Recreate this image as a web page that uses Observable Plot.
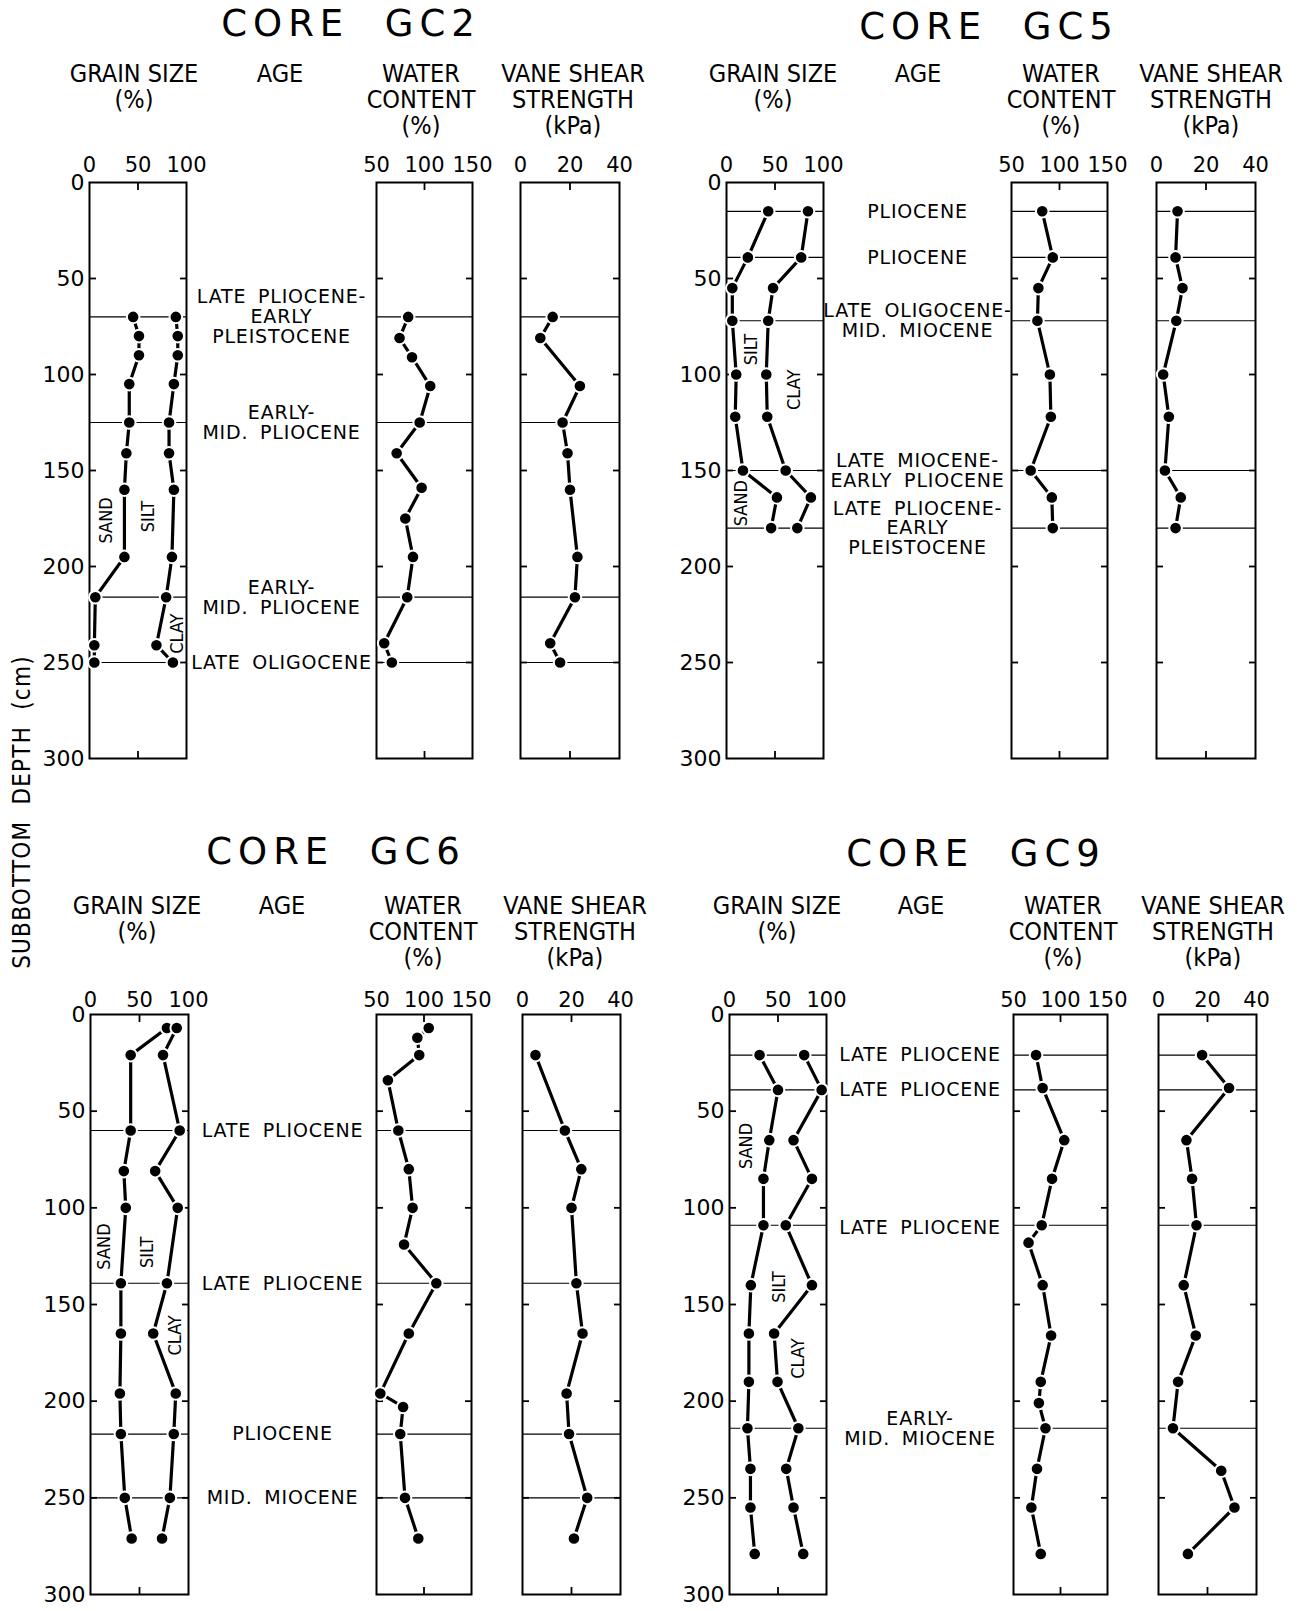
<!DOCTYPE html>
<html><head><meta charset="utf-8">
<script src="https://cdn.jsdelivr.net/npm/d3@7"></script>
<script src="https://cdn.jsdelivr.net/npm/@observablehq/plot@0.6"></script>
<style>
body{margin:0;background:#fff;}
#root{position:relative;width:1297px;height:1611px;overflow:hidden;background:#fff;color:#000;}
.title{position:absolute;font-family:"DejaVu Sans",sans-serif;font-size:37px;letter-spacing:6px;white-space:pre;transform:translate(-50%,-50%);line-height:1;}
.hdr{position:absolute;font-family:"DejaVu Sans Condensed","DejaVu Sans",sans-serif;font-stretch:condensed;font-size:25px;line-height:26px;text-align:center;white-space:pre;transform:translateX(-50%);}
.ylab{position:absolute;font-family:"DejaVu Sans Condensed","DejaVu Sans",sans-serif;font-stretch:condensed;font-size:24px;letter-spacing:1.2px;white-space:pre;transform:translate(-50%,-50%) rotate(-90deg);}
</style></head>
<body><div id="root"></div>
<script>
// ---------- DATA ----------
// CORE GC2
const gc2GrainDepth = [70, 80, 90, 105, 125, 141, 160, 195, 216, 241, 250];
const gc2Sand       = [45, 51, 51, 41, 41, 38, 36, 36, 6, 5, 5];
const gc2SandSilt   = [89, 91, 91, 87, 82, 82, 87, 85, 79, 69, 86];
const gc2WaterDepth = [70, 81, 91, 106, 125, 141, 159, 175, 195, 216, 240, 250];
const gc2Water      = [83, 74, 87, 106, 95, 71, 97, 80, 88, 82, 58, 66];
const gc2VaneDepth  = [70, 81, 106, 125, 141, 160, 195, 216, 240, 250];
const gc2Vane       = [13, 8, 24, 17, 19, 20, 23, 22, 12, 16];
const gc2Rules      = [70, 125, 216, 250];
const gc2AgeDepth   = [70, 125, 216, 250];
const gc2AgeText    = ["LATE PLIOCENE-\nEARLY\nPLEISTOCENE", "EARLY-\nMID. PLIOCENE", "EARLY-\nMID. PLIOCENE", "LATE OLIGOCENE"];

// CORE GC5
const gc5Depth      = [15, 39, 55, 72, 100, 122, 150, 164, 180];
const gc5Sand       = [43, 22, 6, 6, 10, 9, 17, 52, 46];
const gc5SandSilt   = [84, 77, 48, 43, 41, 42, 61, 87, 73];
const gc5Water      = [82, 93, 78, 77, 90, 91, 70, 92, 93];
const gc5Vane       = [8.5, 7.7, 10.5, 8, 2.7, 5, 3.4, 9.8, 7.7];
const gc5Rules      = [15, 39, 72, 150, 180];
const gc5AgeDepth   = [15, 39, 72, 150, 180];
const gc5AgeText    = ["PLIOCENE", "PLIOCENE", "LATE OLIGOCENE-\nMID. MIOCENE", "LATE MIOCENE-\nEARLY PLIOCENE", "LATE PLIOCENE-\nEARLY\nPLEISTOCENE"];

// CORE GC6
const gc6GrainDepth = [7, 21, 60, 81, 100, 139, 165, 196, 217, 250, 271];
const gc6Sand       = [78, 41, 41, 34, 36, 31, 31, 30, 31, 35, 42];
const gc6SandSilt   = [88, 74, 91, 66, 89, 78, 64, 87, 85, 81, 73];
const gc6WaterDepth = [7, 12, 21, 34, 60, 80, 100, 119, 139, 165, 196, 203, 217, 250, 271];
const gc6Water      = [105, 93, 95, 62, 73, 84, 88, 79, 113, 84, 54, 78, 75, 80, 94];
const gc6VaneDepth  = [21, 60, 80, 100, 139, 165, 196, 217, 250, 271];
const gc6Vane       = [5.3, 17.3, 24, 20, 22, 24.5, 18, 19, 26.4, 21];
const gc6Rules      = [60, 139, 217, 250];
const gc6AgeDepth   = [60, 139, 217, 250];
const gc6AgeText    = ["LATE PLIOCENE", "LATE PLIOCENE", "PLIOCENE", "MID. MIOCENE"];

// CORE GC9
const gc9GrainDepth = [21, 39, 65, 85, 109, 140, 165, 190, 214, 235, 255, 279];
const gc9Sand       = [31, 50, 41, 35, 35, 22, 20, 20, 18.5, 21.6, 21.6, 26];
const gc9SandSilt   = [77, 95, 66, 85, 58, 85, 46, 49.5, 71, 58.5, 66, 76];
const gc9WaterDepth = [21, 38, 65, 85, 109, 118, 140, 166, 190, 201, 214, 235, 255, 279];
const gc9Water      = [74, 81, 104, 91, 80, 66, 81, 90, 79, 77, 84, 75, 69, 79];
const gc9VaneDepth  = [21, 38, 65, 85, 109, 140, 166, 190, 214, 236, 255, 279];
const gc9Vane       = [17.8, 28.8, 11.4, 13.7, 15.5, 10.3, 15.2, 8, 5.9, 25.6, 31, 12];
const gc9Rules      = [21, 39, 109, 214];
const gc9AgeDepth   = [21, 39, 110, 214];
const gc9AgeText    = ["LATE PLIOCENE", "LATE PLIOCENE", "LATE PLIOCENE", "EARLY-\nMID. MIOCENE"];

// zone labels (grain-size %, depth cm)
const zoneNames  = ["SAND", "SILT", "CLAY"];
const gc2ZoneX = [17, 61, 90],  gc2ZoneD = [176, 174, 235];
const gc5ZoneX = [15, 25, 70],  gc5ZoneD = [167, 87, 108];
const gc6ZoneX = [14, 58, 86],  gc6ZoneD = [120, 123, 166];
const gc9ZoneX = [17, 51, 71],  gc9ZoneD = [68, 141, 178];

const depthTicks = [0, 50, 100, 150, 200, 250, 300];
const innerTicks = [50, 100, 150, 200, 250];
const grainTicks = [0, 50, 100];
const waterTicks = [50, 100, 150];
const vaneTicks  = [0, 20, 40];

// ---------- LAYOUT ----------
const root = document.getElementById("root");
const rowTop = [182, 1014], rowBottom = [758, 1594];
const hdrY = [74, 906];
const tickPad = [11, 8];
const COND = "DejaVu Sans Condensed";
const MT = 40, MB = 12;

const zip = (ds, vs) => ds.map((d, i) => ({d, v: vs[i]}));

const cores = [
  {title: "CORE  GC2", tx: 351, ty: 23, row: 0, grain: [89, 186], water: [376, 472], vane: [520, 619],
   hx: [134, 280, 421, 573],
   grainSeries: [zip(gc2GrainDepth, gc2Sand), zip(gc2GrainDepth, gc2SandSilt)],
   waterSeries: zip(gc2WaterDepth, gc2Water), vaneSeries: zip(gc2VaneDepth, gc2Vane),
   rules: gc2Rules, ages: gc2AgeDepth.map((d, i) => ({d, t: gc2AgeText[i]})),
   zones: zoneNames.map((t, i) => ({t, x: gc2ZoneX[i], d: gc2ZoneD[i]}))},
  {title: "CORE  GC5", tx: 989, ty: 26, row: 0, grain: [726, 823], water: [1011, 1107], vane: [1156, 1255],
   hx: [773, 918, 1061, 1211],
   grainSeries: [zip(gc5Depth, gc5Sand), zip(gc5Depth, gc5SandSilt)],
   waterSeries: zip(gc5Depth, gc5Water), vaneSeries: zip(gc5Depth, gc5Vane),
   rules: gc5Rules, ages: gc5AgeDepth.map((d, i) => ({d, t: gc5AgeText[i]})),
   zones: zoneNames.map((t, i) => ({t, x: gc5ZoneX[i], d: gc5ZoneD[i]}))},
  {title: "CORE  GC6", tx: 336, ty: 851, row: 1, grain: [90, 188], water: [376, 471], vane: [522, 620],
   hx: [137, 282, 423, 575],
   grainSeries: [zip(gc6GrainDepth, gc6Sand), zip(gc6GrainDepth, gc6SandSilt)],
   waterSeries: zip(gc6WaterDepth, gc6Water), vaneSeries: zip(gc6VaneDepth, gc6Vane),
   rules: gc6Rules, ages: gc6AgeDepth.map((d, i) => ({d, t: gc6AgeText[i]})),
   zones: zoneNames.map((t, i) => ({t, x: gc6ZoneX[i], d: gc6ZoneD[i]}))},
  {title: "CORE  GC9", tx: 976, ty: 853, row: 1, grain: [729, 826], water: [1013, 1107], vane: [1158, 1256],
   hx: [777, 921, 1063, 1213],
   grainSeries: [zip(gc9GrainDepth, gc9Sand), zip(gc9GrainDepth, gc9SandSilt)],
   waterSeries: zip(gc9WaterDepth, gc9Water), vaneSeries: zip(gc9VaneDepth, gc9Vane),
   rules: gc9Rules, ages: gc9AgeDepth.map((d, i) => ({d, t: gc9AgeText[i]})),
   zones: zoneNames.map((t, i) => ({t, x: gc9ZoneX[i], d: gc9ZoneD[i]}))}
];

function addDiv(cls, text, x, y) {
  const el = document.createElement("div");
  el.className = cls; el.textContent = text;
  el.style.left = x + "px"; el.style.top = y + "px";
  root.appendChild(el);
  return el;
}

function place(svg, left, top) {
  svg.style.position = "absolute";
  svg.style.left = left + "px";
  svg.style.top = top + "px";
  svg.style.maxWidth = "none";
  root.appendChild(svg);
}

function panel({frame, row, domain, labels, mid, series, rules, zones, yLabels}) {
  const ml = yLabels ? 72 : 30, mr = 30;
  const fw = frame[1] - frame[0];
  const fh = rowBottom[row] - rowTop[row];
  const marks = [
    Plot.ruleY(rules, {strokeWidth: 1.2}),
    Plot.frame({strokeWidth: 2}),
    Plot.axisY({anchor: "left", ticks: innerTicks, tickSize: -7, tickFormat: () => "", strokeWidth: 1.8, label: null}),
    Plot.axisY({anchor: "right", ticks: innerTicks, tickSize: -7, tickFormat: () => "", strokeWidth: 1.8, label: null}),
    Plot.axisX({anchor: "top", ticks: [mid], tickSize: -7, tickFormat: () => "", strokeWidth: 1.8, label: null}),
    Plot.axisX({anchor: "bottom", ticks: [mid], tickSize: -7, tickFormat: () => "", strokeWidth: 1.8, label: null}),
    Plot.axisX({anchor: "top", ticks: labels, tickSize: 0, tickPadding: tickPad[row], fontSize: 21, tickFormat: d => String(d), label: null})
  ];
  if (yLabels) marks.push(Plot.axisY({anchor: "left", ticks: depthTicks, tickSize: 0, tickPadding: 5, fontSize: 22, tickFormat: d => String(d), label: null}));
  for (const s of series) marks.push(Plot.line(s, {x: "v", y: "d", stroke: "black", strokeWidth: 3.2}));
  for (const s of series) marks.push(Plot.dot(s, {x: "v", y: "d", r: 6.3, fill: "black", stroke: "white", strokeWidth: 2}));
  if (zones) marks.push(Plot.text(zones, {x: "x", y: "d", text: "t", rotate: -90, fontSize: 18, fontFamily: COND}));
  const svg = Plot.plot({
    width: ml + fw + mr, height: MT + fh + MB, marginLeft: ml, marginRight: mr, marginTop: MT, marginBottom: MB,
    x: {domain, label: null}, y: {domain: [0, 300], reverse: true, label: null},
    style: {fontFamily: "DejaVu Sans", background: "none", overflow: "visible", color: "black"},
    marks
  });
  place(svg, frame[0] - ml, rowTop[row] - MT);
}

function agePanel({left, right, row, ages}) {
  const fh = rowBottom[row] - rowTop[row];
  const svg = Plot.plot({
    width: right - left, height: MT + fh + MB, marginLeft: 0, marginRight: 0, marginTop: MT, marginBottom: MB,
    x: {domain: [0, 1], axis: null}, y: {domain: [0, 300], reverse: true, axis: null},
    style: {fontFamily: "DejaVu Sans", background: "none", overflow: "visible", color: "black", letterSpacing: "0.8px", wordSpacing: "5px"},
    marks: [
      Plot.text(ages, {y: "d", text: "t", textAnchor: "middle", lineAnchor: "middle", lineHeight: 1.05, fontSize: 19})
    ]
  });
  place(svg, left, rowTop[row] - MT);
}

for (const c of cores) {
  addDiv("title", c.title, c.tx, c.ty);
  const y0 = hdrY[c.row] - 13;
  addDiv("hdr", "GRAIN SIZE\n(%)", c.hx[0], y0);
  addDiv("hdr", "AGE", c.hx[1], y0);
  addDiv("hdr", "WATER\nCONTENT\n(%)", c.hx[2], y0);
  addDiv("hdr", "VANE SHEAR\nSTRENGTH\n(kPa)", c.hx[3], y0);
  panel({frame: c.grain, row: c.row, domain: [0, 100], labels: grainTicks, mid: 50, series: c.grainSeries,
         rules: c.rules, zones: c.zones, yLabels: true});
  agePanel({left: c.grain[1], right: c.water[0], row: c.row, ages: c.ages});
  panel({frame: c.water, row: c.row, domain: [50, 150], labels: waterTicks, mid: 100, series: [c.waterSeries], rules: c.rules});
  panel({frame: c.vane, row: c.row, domain: [0, 40], labels: vaneTicks, mid: 20, series: [c.vaneSeries], rules: c.rules});
}
addDiv("ylab", "SUBBOTTOM  DEPTH  (cm)", 22, 812);
</script>
</body></html>
